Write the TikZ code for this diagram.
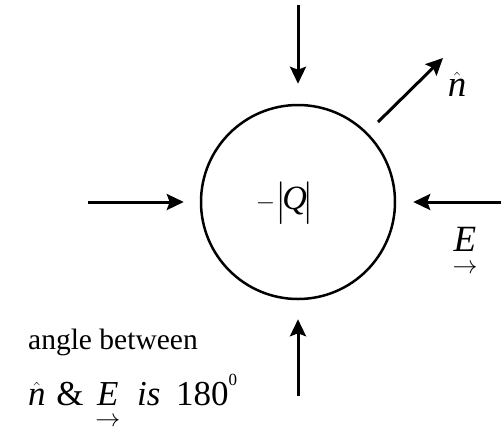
\documentclass[tikz,border=0pt]{standalone}
\usepackage{amsmath,amssymb}
\usepackage{fontspec}
\setmainfont{Liberation Serif}
\usepackage{tikz}
\usetikzlibrary{calc,positioning,arrows.meta}

\tikzset{
  field/.style={line width=3pt,-{Stealth[length=17pt,width=16pt,inset=3pt]}},
  lbl/.style={font=\fontsize{29.5}{35}\selectfont, inner sep=0pt},
  sym/.style={font=\fontsize{37}{42}\selectfont, inner sep=0pt}
}
\newcommand{\degsup}{\raisebox{0.55em}{\fontsize{17}{17}\selectfont 0}}

\begin{document}
\begin{tikzpicture}[x=1pt,y=-1pt]
  \useasboundingbox (0,0) rectangle (501,432);
  \node[draw, circle, line width=2.5pt, minimum size=194pt, inner sep=0pt] (charge) at (298,202) {};
  \node[sym, font=\fontsize{34}{40}\selectfont] (q) at (285,203) {$-\bigl\lvert\!\textit{Q}\!\bigr\rvert$};
  % incoming field lines
  \coordinate (ftop) at (298,5);
  \coordinate (fbot) at (298,396);
  \coordinate (fleft) at (88,202);
  \coordinate (fright) at (501,202);
  \draw[field] (ftop) -- ([yshift=20pt]charge.north);
  \draw[field] (fbot) -- ([yshift=-19pt]charge.south);
  \draw[field] (fleft) -- ([xshift=-16pt]charge.west);
  \draw[field] (fright) -- ([xshift=17pt]charge.east);
  % normal vector
  \coordinate (ntail) at (378,122);
  \coordinate (ntip) at (443,58);
  \draw[field] (ntail) -- (ntip);
  \node[sym] (nhat) at (457,84) {$\hat{\textit{n}}$};
  \node[sym] (evec) at (465,252) {$\underset{\rightarrow}{\textit{E}}$};
  \node[lbl, anchor=base west] (angle) at (28,349) {angle between};
  \node[sym, font=\fontsize{35}{40}\selectfont, anchor=base west] (result) at (28,405) {$\hat{\textit{n}}$\hspace{2pt} \&\hspace{3pt} $\underset{\rightarrow}{\textit{E}}$\hspace{8pt} \textit{is}\hspace{7pt} 180\degsup};
\end{tikzpicture}
\end{document}
